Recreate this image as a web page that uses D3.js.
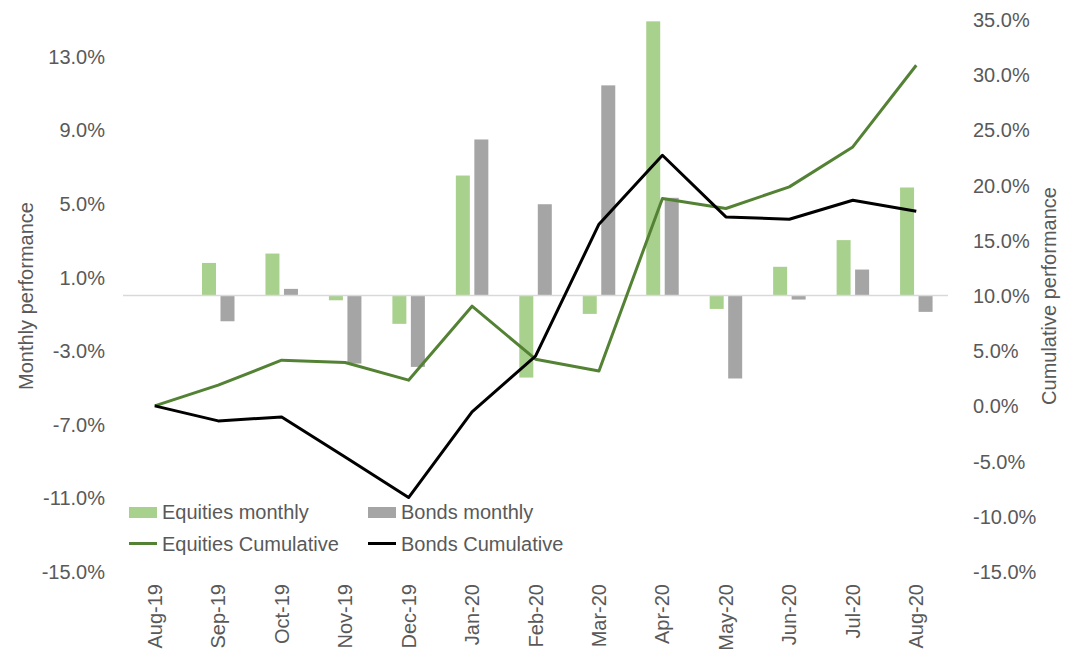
<!DOCTYPE html>
<html>
<head>
<meta charset="utf-8">
<script src="https://cdn.jsdelivr.net/npm/d3@7"></script>
<style>
  html, body { margin: 0; padding: 0; background: #fff; }
  svg text { font-family: "Liberation Sans", Arial, sans-serif; fill: #595959; }
</style>
</head>
<body>
<svg id="chart" width="1075" height="659"></svg>
<script>
const categories = ["Aug-19","Sep-19","Oct-19","Nov-19","Dec-19","Jan-20","Feb-20","Mar-20","Apr-20","May-20","Jun-20","Jul-20","Aug-20"];
const equitiesMonthly = [null, 1.77, 2.28, -0.26, -1.54, 6.52, -4.46, -1.00, 14.9, -0.73, 1.56, 3.01, 5.87];
const bondsMonthly    = [null, -1.40, 0.36, -3.70, -3.88, 8.48, 4.96, 11.42, 5.31, -4.51, -0.22, 1.41, -0.89];
const equitiesCumulative = [0, 1.88, 4.14, 3.93, 2.33, 9.03, 4.23, 3.17, 18.79, 17.88, 19.84, 23.46, 30.86];
const bondsCumulative    = [0, -1.36, -1.00, -4.62, -8.30, -0.54, 4.50, 16.46, 22.70, 17.12, 16.91, 18.63, 17.64];
const leftTicks = [-15, -11, -7, -3, 1, 5, 9, 13];
const rightTicks = [-15, -10, -5, 0, 5, 10, 15, 20, 25, 30, 35];
const seriesNames = ["Equities monthly", "Bonds monthly", "Equities Cumulative", "Bonds Cumulative"];

const colors = { eqBar: "#a9d18e", bdBar: "#a5a5a5", eqLine: "#548235", bdLine: "#000000", axis: "#d9d9d9" };
const FS = 20;

const svg = d3.select("#chart");
const plot = { left: 123, right: 948, top: 19.5, bottom: 571.5 };

const x = d3.scaleBand().domain(categories).range([plot.left, plot.right]).padding(0);
const yL = d3.scaleLinear().domain([-15, 15]).range([plot.bottom, plot.top]);
const yR = d3.scaleLinear().domain([-15, 35]).range([plot.bottom, plot.top]);
const fmt = d => (d < 0 ? "-" : "") + Math.abs(d).toFixed(1) + "%";

const cx = c => x(c) + x.bandwidth() / 2;
const barW = 14;

// Bars
const gBars = svg.append("g");
categories.forEach((c, i) => {
  const e = equitiesMonthly[i];
  if (e !== null) {
    gBars.append("rect")
      .attr("x", cx(c) - 16.2).attr("width", barW)
      .attr("y", yL(Math.max(0, e))).attr("height", Math.abs(yL(e) - yL(0)))
      .attr("fill", colors.eqBar);
  }
  const b = bondsMonthly[i];
  if (b !== null) {
    gBars.append("rect")
      .attr("x", cx(c) + 2.3).attr("width", barW)
      .attr("y", yL(Math.max(0, b))).attr("height", Math.abs(yL(b) - yL(0)))
      .attr("fill", colors.bdBar);
  }
});

// Zero line
svg.append("line")
  .attr("x1", plot.left).attr("x2", plot.right)
  .attr("y1", yL(0)).attr("y2", yL(0))
  .attr("stroke", colors.axis).attr("stroke-width", 1.5);

// Lines
const line = d3.line().x((d, i) => cx(categories[i])).y(d => yR(d));
svg.append("path").datum(equitiesCumulative)
  .attr("d", line).attr("fill", "none")
  .attr("stroke", colors.eqLine).attr("stroke-width", 3).attr("stroke-linejoin", "round");
svg.append("path").datum(bondsCumulative)
  .attr("d", line).attr("fill", "none")
  .attr("stroke", colors.bdLine).attr("stroke-width", 3).attr("stroke-linejoin", "round");

// Left axis
const leftAxis = d3.axisLeft(yL).tickValues(leftTicks).tickFormat(fmt).tickSize(0).tickPadding(0);
const gL = svg.append("g").attr("transform", "translate(105,0)").call(leftAxis);
gL.select(".domain").remove();
gL.selectAll("text").style("font-size", FS + "px").attr("fill", "#595959").attr("dy", "0.35em");

// Right axis
const rightAxis = d3.axisRight(yR).tickValues(rightTicks).tickFormat(fmt).tickSize(0).tickPadding(0);
const gR = svg.append("g").attr("transform", "translate(973,0)").call(rightAxis);
gR.select(".domain").remove();
gR.selectAll("text").style("font-size", FS + "px").attr("fill", "#595959").attr("dy", "0.35em");

// X labels
categories.forEach(c => {
  svg.append("text")
    .attr("transform", `translate(${cx(c)},584) rotate(-90)`)
    .attr("text-anchor", "end").attr("dy", "0.35em")
    .style("font-size", FS + "px").text(c);
});

// Axis titles
svg.append("text").attr("transform", "translate(26,296) rotate(-90)")
  .attr("text-anchor", "middle").attr("dy", "0.35em").style("font-size", FS + "px").text("Monthly performance");
svg.append("text").attr("transform", "translate(1049,296) rotate(-90)")
  .attr("text-anchor", "middle").attr("dy", "0.35em").style("font-size", FS + "px").text("Cumulative performance");

// Legend
const leg = svg.append("g");
const legItems = [
  { name: seriesNames[0], type: "rect", color: colors.eqBar, x: 129, y: 519 },
  { name: seriesNames[1], type: "rect", color: colors.bdBar, x: 368, y: 519 },
  { name: seriesNames[2], type: "line", color: colors.eqLine, x: 129, y: 551 },
  { name: seriesNames[3], type: "line", color: colors.bdLine, x: 368, y: 551 }
];
legItems.forEach(it => {
  if (it.type === "rect") {
    leg.append("rect").attr("x", it.x).attr("y", it.y - 12).attr("width", 28).attr("height", 11).attr("fill", it.color);
  } else {
    leg.append("line").attr("x1", it.x).attr("x2", it.x + 28).attr("y1", it.y - 7.5).attr("y2", it.y - 7.5)
      .attr("stroke", it.color).attr("stroke-width", 3);
  }
  leg.append("text").attr("x", it.x + 33).attr("y", it.y).style("font-size", FS + "px").text(it.name);
});
</script>
</body>
</html>
